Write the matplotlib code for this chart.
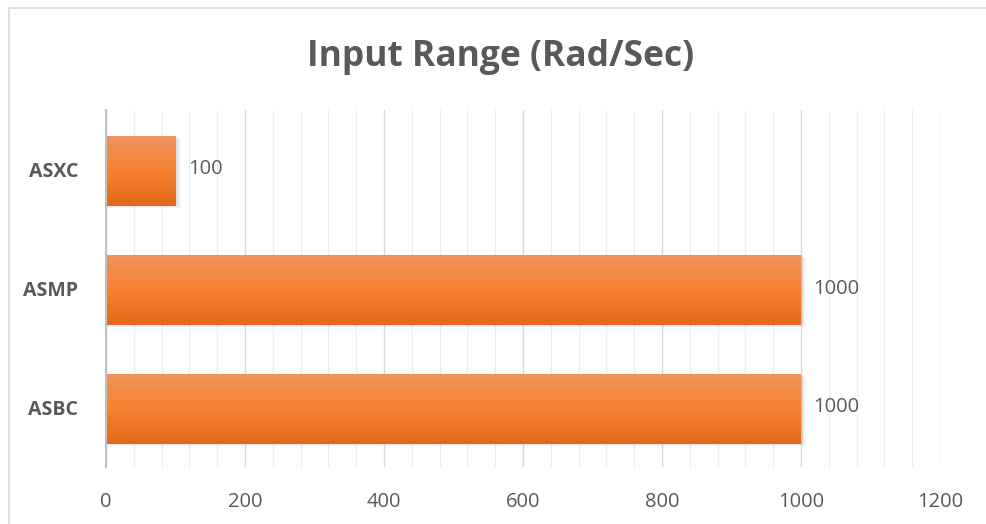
import matplotlib
matplotlib.use("Agg")
import matplotlib.pyplot as plt
from matplotlib.patches import Rectangle
from matplotlib.colors import LinearSegmentedColormap
import numpy as np

categories = ["ASBC", "ASMP", "ASXC"]
values = [1000, 1000, 100]
x_ticks = [0, 200, 400, 600, 800, 1000, 1200]
title = "Input Range (Rad/Sec)"

text_col = "#595959"
plt.rcParams['font.family'] = ['Open Sans', 'DejaVu Sans']

fig = plt.figure(figsize=(9.87, 5.24), dpi=100)
fig.patch.set_facecolor("white")
# outer chart border
fig.patches.append(Rectangle((9 / 987, -0.01), 1.0, 1 - 8 / 524 + 0.01, transform=fig.transFigure,
                             fill=False, edgecolor="#d9d9d9", linewidth=1.2))

ax = fig.add_axes([106 / 987, 1 - 467 / 524, 834 / 987, 357 / 524])
ax.set_xlim(0, 1200)
ax.set_ylim(-0.5, len(categories) - 0.5)

# grid lines
for v in np.arange(0, 1201, 40):
    major = v % 200 == 0
    ax.axvline(v, color="#d9d9d9" if major else "#ececec", lw=1.0 if major else 0.8, zorder=0)

cmap = LinearSegmentedColormap.from_list("bar", ["#f0935c", "#f58231", "#e2691b"])
grad = np.linspace(0, 1, 100).reshape(-1, 1)
h = 0.58
for i, v in enumerate(values):
    # soft shadow
    for k, a in enumerate([0.12, 0.10, 0.08]):
        ax.add_patch(Rectangle((0, i - h / 2 - 0.012 * (k + 1)), v + 2.5 * (k + 1), h,
                               facecolor="#808080", alpha=a, edgecolor="none", zorder=2))
    ax.imshow(grad, cmap=cmap, aspect="auto", extent=(0, v, i - h / 2 - 0.02, i + h / 2 - 0.02),
              origin="upper", zorder=3)
    ax.text(v + 18, i, str(v), va="center", ha="left", fontsize=14.5, color=text_col)

ax.set_yticks(range(len(categories)))
ax.set_yticklabels(categories, fontsize=14, fontweight="bold", color=text_col)
ax.set_xticks(x_ticks)
ax.set_xticklabels([str(t) for t in x_ticks], fontsize=14.5, color=text_col)
ax.tick_params(axis="x", length=0, pad=18)
ax.tick_params(axis="y", length=0, pad=20)
for s in ["top", "right", "bottom"]:
    ax.spines[s].set_visible(False)
ax.spines["left"].set_color("#bfbfbf")
ax.spines["left"].set_linewidth(1.5)
ax.spines["left"].set_zorder(5)

fig.text(0.507, 1 - 57 / 524, title, ha="center", va="center", fontsize=25.5, fontweight="bold",
         color=text_col)

fig.savefig("out.png", dpi=100)
